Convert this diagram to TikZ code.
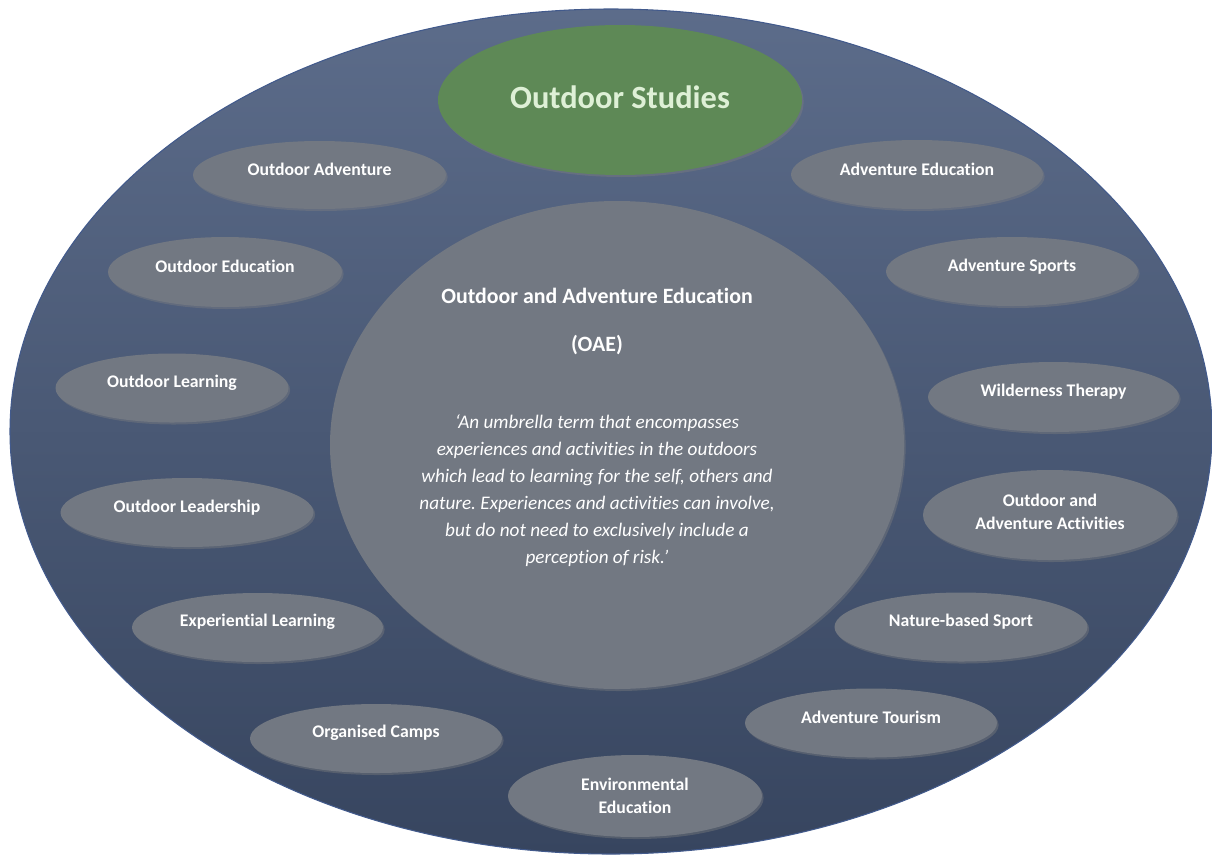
\documentclass[tikz,border=0pt]{standalone}
\usepackage{fontspec}
\setmainfont[Ligatures=NoCommon]{Carlito}
\frenchspacing
\usetikzlibrary{shapes.geometric, shadows}

\definecolor{ringtop}{RGB}{92,108,138}
\definecolor{ringbot}{RGB}{55,69,95}
\definecolor{ringedge}{RGB}{66,90,140}
\definecolor{oaegrey}{RGB}{114,120,130}
\definecolor{studgreen}{RGB}{94,137,86}
\definecolor{studtext}{RGB}{222,240,214}
\newcommand{\blobfont}{\fontsize{13.3}{17.2}\selectfont\bfseries}

\begin{document}
\begin{tikzpicture}[x=0.75pt, y=-0.75pt,
    ring/.style={ellipse, inner sep=0pt, top color=ringtop, bottom color=ringbot,
      draw=ringedge, line width=0.8pt},
    blob/.style={ellipse, inner sep=0pt, fill=oaegrey,
      drop shadow={opacity=0.4, shadow xshift=1.2pt, shadow yshift=-1.5pt}},
    blobtext/.style={text=white, align=center, inner sep=0pt, font=\blobfont},
  ]
  \useasboundingbox (0, 0) rectangle (1212, 857);

  \node[ring, minimum width=901.5pt, minimum height=633.75pt] (ring) at (611, 431.5) {};

  \node[blob, fill=studgreen, minimum width=273pt, minimum height=112.5pt] (studies) at (620, 100) {};
  \node[text=studtext, font=\fontsize{24.3}{29}\selectfont\bfseries] (studies-t) at (620, 97) {Outdoor Studies};

  \node[blob, minimum width=430.5pt, minimum height=366pt] (oae) at (617, 445) {};
  \node[blobtext, font=\fontsize{16.4}{20}\selectfont\bfseries] (oae-title) at (597, 296) {Outdoor and Adventure Education};
  \node[blobtext, font=\fontsize{16.4}{20}\selectfont\bfseries] (oae-abbr) at (597, 345) {(OAE)};
  \node[blobtext, font=\fontsize{14.4}{20.25}\selectfont\itshape] (oae-quote) at (597, 490.5)
    {‘An umbrella term that encompasses\\experiences and activities in the outdoors\\which lead to learning for the self, others and\\nature. Experiences and activities can involve,\\but do not need to exclusively include a\\perception of risk.’};

  \foreach \nm/\cx/\cy/\w/\h/\dy/\txt in {
      outadv/319.5/175/253/68/4/{Outdoor Adventure},
      outedu/225/272/234/70/4/{Outdoor Education},
      outlrn/172/388/233/69/4/{Outdoor Learning},
      outlead/187/512.5/253/69/4/{Outdoor Leadership},
      explrn/257.5/627.5/251/69/4/{Experiential Learning},
      orgcamp/376/738.5/252/69/4/{Organised Camps},
      envedu/635/796/254/82/0/{Environmental\\Education},
      advtour/871/723/252/69/4/{Adventure Tourism},
      natsport/961/627/253/69/4/{Nature-based Sport},
      oaa/1050/515/254/90/2.5/{Outdoor and\\Adventure Activities},
      wildth/1053.5/397/251/70/4/{Wilderness Therapy},
      advsport/1012/271.5/252/69/4/{Adventure Sports},
      advedu/917/174.5/252/69/4/{Adventure Education}%
    } {
    \node[blob, minimum width=\w*0.75pt, minimum height=\h*0.75pt] (\nm) at (\cx, \cy) {};
    \node[blobtext] (\nm-t) at ([yshift=\dy pt]\nm.center) {\txt};
  }

\end{tikzpicture}
\end{document}
